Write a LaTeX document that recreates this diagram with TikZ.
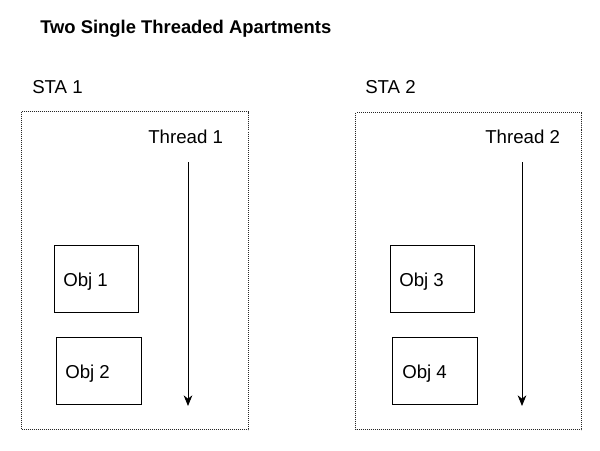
\documentclass[tikz,border=0pt]{standalone}
\usepackage{fontspec}
\setmainfont{Liberation Sans}
\usetikzlibrary{arrows.meta}
\begin{document}
\begin{tikzpicture}[x=0.75pt,y=-0.75pt,
  apt/.style={draw=black!85, line width=0.75pt, dash pattern=on 0.75pt off 0.75pt},
  objbox/.style={draw, line width=0.75pt},
  lbl/.style={font=\fontsize{14}{16}\selectfont, inner sep=0pt, anchor=base west},
  thr/.style={line width=0.75pt, -{Stealth[length=8pt,width=6.5pt,inset=2.5pt]}}]
\useasboundingbox (0,0) rectangle (600,450);
\node[font=\bfseries\fontsize{13.8}{16}\selectfont, inner sep=0pt, anchor=base west] (title) at (40,33) {Two Single Threaded Apartments};
% STA 1
\node[lbl] (sta1) at (32,93.5) {STA 1};
\draw[apt] (21.5,111.5) rectangle (248.5,429.5);
\node[lbl] (th1) at (148,143) {Thread 1};
\coordinate (t1s) at (188,162);
\coordinate (t1e) at (188,406);
\draw[thr] (t1s) -- (t1e);
\draw[objbox] (54.5,245.5) rectangle (138.5,312.5);
\node[lbl] (o1) at (63,286) {Obj 1};
\draw[objbox] (56.5,337.5) rectangle (141.5,404.5);
\node[lbl] (o2) at (65,378) {Obj 2};
% STA 2
\node[lbl] (sta2) at (365,93.5) {STA 2};
\draw[apt] (355.5,112.5) rectangle (581.5,429.5);
\node[lbl] (th2) at (485,143) {Thread 2};
\coordinate (t2s) at (522,162);
\coordinate (t2e) at (522,406);
\draw[thr] (t2s) -- (t2e);
\draw[objbox] (390.5,245.5) rectangle (474.5,312.5);
\node[lbl] (o3) at (399,286) {Obj 3};
\draw[objbox] (392.5,337.5) rectangle (477.5,404.5);
\node[lbl] (o4) at (402,378) {Obj 4};
\end{tikzpicture}
\end{document}
